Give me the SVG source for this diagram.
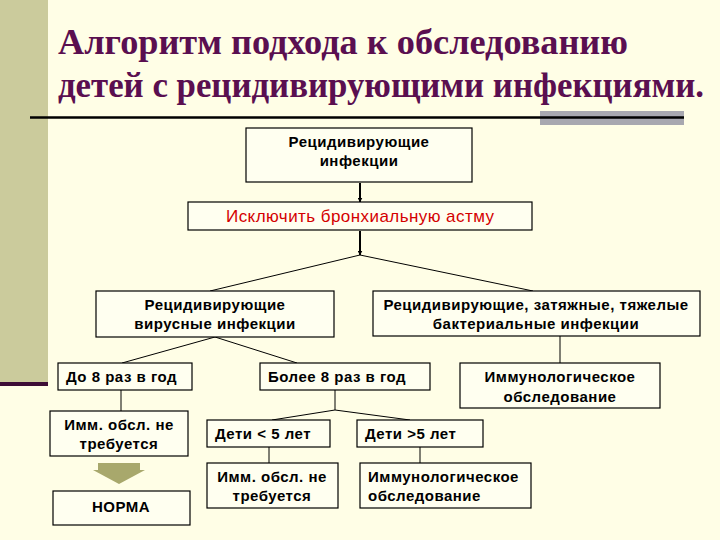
<svg xmlns="http://www.w3.org/2000/svg" width="720" height="540" viewBox="0 0 720 540">
<defs>
<marker id="ah" viewBox="0 0 10 10" refX="9" refY="5" markerWidth="5" markerHeight="5" orient="auto" markerUnits="userSpaceOnUse"><path d="M0,0 L10,5 L0,10 z" fill="#000"/></marker>
<style>
.box{fill:#fffff0;stroke:#000;stroke-width:1.2}
.t{font-family:"Liberation Sans",Arial,sans-serif;font-size:15px;font-weight:bold;letter-spacing:0.5px;fill:#000}
.c{text-anchor:middle}
.title{font-family:"Liberation Serif","Times New Roman",serif;font-weight:bold;font-size:35px;fill:#5a0f50}
.ln{stroke:#000;stroke-width:1;fill:none}
.ar{stroke:#000;stroke-width:2;fill:none;marker-end:url(#ah)}
</style>
</defs>
<rect width="720" height="540" fill="#fffee6"/>
<rect x="0" y="0" width="48" height="382" fill="#cbcb9c"/>
<rect x="0" y="382" width="48" height="4" fill="#3d0d36"/>
<g id="title">
<text class="title" x="58" y="54" textLength="570" lengthAdjust="spacingAndGlyphs">Алгоритм подхода к обследованию</text>
<text class="title" x="58" y="97" textLength="646" lengthAdjust="spacingAndGlyphs">детей с рецидивирующими инфекциями.</text>
<rect x="540" y="111" width="144" height="14" fill="#a8a8b0"/>
<line x1="30" y1="117.5" x2="684" y2="117.5" stroke="#000" stroke-width="2.5"/>
</g>
<g id="connectors">
<line class="ar" x1="360" y1="183" x2="360" y2="202"/>
<line class="ar" x1="360" y1="231" x2="360" y2="255"/>
<line class="ln" x1="360" y1="255" x2="210" y2="291"/>
<line class="ln" x1="360" y1="255" x2="533" y2="291"/>
<line class="ln" x1="215" y1="337" x2="122" y2="363"/>
<line class="ln" x1="215" y1="337" x2="297" y2="363"/>
<line class="ln" x1="560" y1="336" x2="560" y2="363"/>
<line class="ln" x1="121" y1="390" x2="121" y2="411"/>
<line class="ln" x1="335" y1="390" x2="335" y2="410"/>
<line class="ln" x1="335" y1="410" x2="272" y2="420"/>
<line class="ln" x1="335" y1="410" x2="410" y2="420"/>
<line class="ln" x1="269" y1="447" x2="269" y2="463"/>
<line class="ln" x1="420" y1="447" x2="420" y2="463"/>
</g>
<g id="n1"><rect class="box" x="246" y="128" width="226" height="54"/><text class="t c" x="359" y="147">Рецидивирующие</text><text class="t c" x="359" y="166">инфекции</text></g>
<g id="n2"><rect class="box" x="188" y="202" width="344" height="28"/><text class="c" x="360" y="222" font-family="'Liberation Sans',Arial,sans-serif" font-size="17" fill="#d40000" textLength="268">Исключить бронхиальную астму</text></g>
<g id="n3"><rect class="box" x="96" y="291" width="238" height="46"/><text class="t c" x="215" y="310">Рецидивирующие</text><text class="t c" x="215" y="329">вирусные инфекции</text></g>
<g id="n4"><rect class="box" x="373" y="291" width="327" height="45"/><text class="t c" x="536" y="310">Рецидивирующие, затяжные, тяжелые</text><text class="t c" x="536" y="329">бактериальные инфекции</text></g>
<g id="n5"><rect class="box" x="58" y="363" width="134" height="27"/><text class="t" x="66" y="382">До 8 раз в год</text></g>
<g id="n6"><rect class="box" x="260" y="363" width="170" height="27"/><text class="t" x="268" y="382">Более 8 раз в год</text></g>
<g id="n7"><rect class="box" x="460" y="363" width="200" height="45"/><text class="t c" x="560" y="382">Иммунологическое</text><text class="t c" x="560" y="402">обследование</text></g>
<g id="n8"><rect class="box" x="50" y="411" width="138" height="45"/><text class="t c" x="119" y="430">Имм. обсл. не</text><text class="t c" x="119" y="449">требуется</text></g>
<g id="arrow"><path d="M98,463 H140 V470 H145 L119,484 L93,470 H98 Z" fill="#a8a86c"/></g>
<g id="n9"><rect class="box" x="53" y="491" width="137" height="34"/><text class="t c" x="121" y="512">НОРМА</text></g>
<g id="n10"><rect class="box" x="207" y="420" width="123" height="27"/><text class="t" x="215" y="439">Дети &lt; 5 лет</text></g>
<g id="n11"><rect class="box" x="357" y="420" width="126" height="27"/><text class="t" x="365" y="439">Дети &gt;5 лет</text></g>
<g id="n12"><rect class="box" x="207" y="463" width="131" height="45"/><text class="t c" x="272" y="482">Имм. обсл. не</text><text class="t c" x="272" y="501">требуется</text></g>
<g id="n13"><rect class="box" x="360" y="463" width="171" height="45"/><text class="t" x="368" y="482">Иммунологическое</text><text class="t" x="368" y="501">обследование</text></g>
</svg>
